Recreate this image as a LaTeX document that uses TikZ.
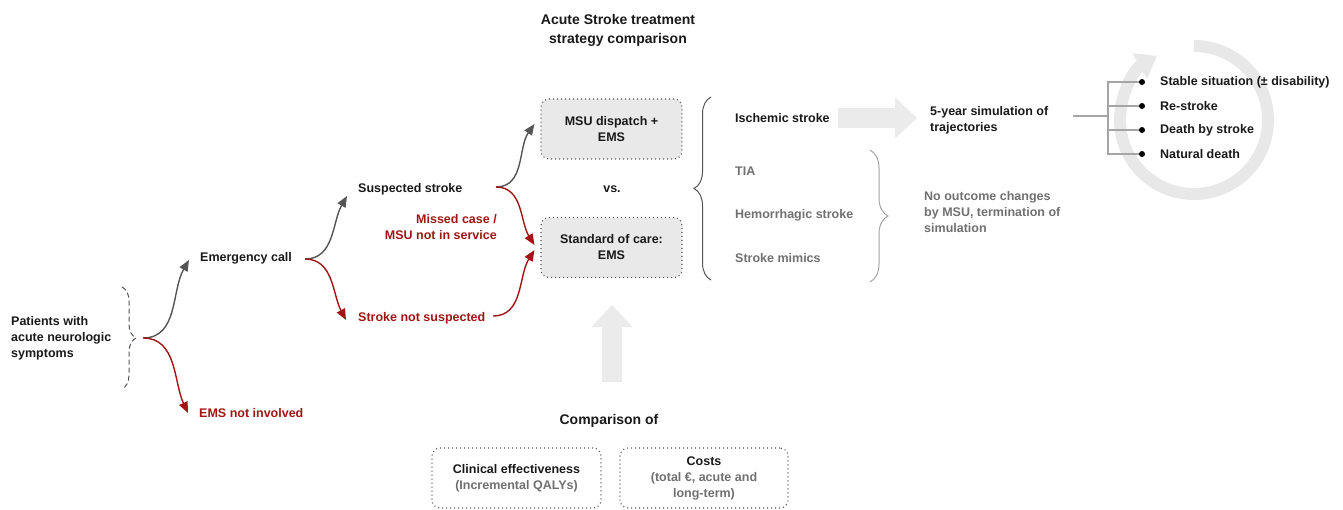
\documentclass[tikz,border=0pt]{standalone}
\usepackage{fontspec}
\setmainfont{Liberation Sans}
\usetikzlibrary{arrows.meta,decorations.pathreplacing,calc}
\definecolor{dgray}{RGB}{85,85,85}
\definecolor{tgray}{RGB}{112,112,112}
\definecolor{dred}{RGB}{160,22,22}
\definecolor{tblack}{RGB}{25,25,25}
\definecolor{boxfill}{RGB}{233,233,233}
\definecolor{bigarrow}{RGB}{235,235,235}
\definecolor{ringgray}{RGB}{232,232,232}
\definecolor{brgray}{RGB}{165,165,165}
\begin{document}
\begin{tikzpicture}[x=1pt,y=1pt,
  every node/.style={inner sep=0pt, font=\fontsize{12.5}{16}\selectfont\bfseries, text=tblack},
  txt/.style={anchor=west, align=left},
  gtxt/.style={anchor=west, align=left, text=tgray},
  rtxt/.style={anchor=west, align=left, text=dred},
  bigtxt/.style={font=\fontsize{14}{19}\selectfont\bfseries, align=center},
  cbox/.style={draw=dgray, dash pattern=on 1pt off 3pt, line width=1.1pt, rounded corners=8pt, minimum height=60pt, align=center},
  gar/.style={draw=dgray, line width=1.4pt, -{Triangle[length=11pt 0 0,width=9pt 0 0]}},
  rar/.style={draw=dred, line width=1.4pt, -{Triangle[length=11pt 0 0,width=9pt 0 0]}},
  blockarrow/.style={draw=bigarrow, line width=20pt, -{Triangle[length=22pt 0 0,width=40pt 0 0]}},
  tree/.style={draw=brgray, line width=1.3pt},
  dot/.style={circle, fill=black, minimum size=6pt}
]
\useasboundingbox (0,0) rectangle (1343,-509);

% ring arrow (background)
\draw[ringgray, line width=12pt, -{Triangle[length=20pt 0 0,width=28pt 0 0]}]
  (1194,-46) arc[start angle=90, end angle=-240, radius=74];

% title
\node[bigtxt] (title) at (618,-30.5) {Acute Stroke treatment\\strategy comparison};

% left part
\node[txt] (pat) at (11,-338) {Patients with\\acute neurologic\\symptoms};
\draw[dgray, line width=1pt, dash pattern=on 5pt off 3pt, decorate, decoration={brace, amplitude=14pt}]
  (122,-287) -- (122,-389);
\coordinate (pb) at (143,-338);

\node[txt] (ec) at (200,-258) {Emergency call};
\node[rtxt] (ems) at (199,-413) {EMS not involved};
\coordinate (ecf) at (305,-259);

\node[txt] (sus) at (358,-189) {Suspected stroke};
\node[rtxt] (sns) at (358,-318) {Stroke not suspected};
\coordinate (susf) at (496,-187);
\coordinate (snsf) at (493,-316);
\node[rtxt, anchor=east, align=right] (miss) at (497,-227) {Missed case /\\MSU not in service};

\node[cbox, fill=boxfill, minimum width=141pt] (msu) at (611.5,-129) {MSU dispatch +\\EMS};
\node[cbox, fill=boxfill, minimum width=141pt] (soc) at (611.5,-247.5) {Standard of care:\\EMS};
\node (vs) at (612,-189) {vs.};

\draw[gar] (pb) to[out=0,in=240] ([shift={(-11,-2)}]ec.west);
\draw[rar] (pb) to[out=0,in=115] ([shift={(-11,0)}]ems.west);
\draw[gar] (ecf) to[out=0,in=240] ([shift={(-11,-7)}]sus.west);
\draw[rar] (ecf) to[out=0,in=118] ([shift={(-12,-2)}]sns.west);
\draw[gar] (susf) to[out=0,in=235] ([shift={(-6,5)}]msu.west);
\draw[rar] (susf) to[out=0,in=122] ([shift={(-6,2.5)}]soc.west);
\draw[rar] (snsf) to[out=0,in=238] ([shift={(-6,-2.5)}]soc.west);

% outcomes brace
\draw[dgray, line width=1pt, decorate, decoration={brace, amplitude=17pt}] (711,-280) -- (711,-97);
\node[txt] (isch) at (735,-118) {Ischemic stroke};
\node[gtxt] (tia) at (735,-171) {TIA};
\node[gtxt] (hem) at (735,-215) {Hemorrhagic stroke};
\node[gtxt] (mim) at (735,-258) {Stroke mimics};
\draw[brgray, line width=1pt, decorate, decoration={brace, amplitude=18pt}] (870,-150) -- (870,-282);
\node[gtxt] (noc) at (924,-212) {No outcome changes\\by MSU, termination of\\simulation};

\coordinate (a1) at (838,-118);
\coordinate (a2) at (917,-118);
\draw[blockarrow] (a1) -- (a2);
\node[txt] (sim) at (930,-120) {5-year simulation of\\trajectories};

% tree
\coordinate (t0) at (1073,-116);
\coordinate (tj) at (1108,-116);
\node[dot] (b1) at (1142,-82) {};
\node[dot] (b2) at (1142,-106) {};
\node[dot] (b3) at (1142,-130) {};
\node[dot] (b4) at (1142,-154) {};
\draw[tree] (t0) -- (tj);
\draw[tree] (b1) -- (b1 -| tj) -- (b4 -| tj) -- (b4);
\draw[tree] (b2) -- (b2 -| tj);
\draw[tree] (b3) -- (b3 -| tj);
\node[txt] (o1) at (1160,-82) {Stable situation (± disability)};
\node[txt] (o2) at (1160,-106) {Re-stroke};
\node[txt] (o3) at (1160,-130) {Death by stroke};
\node[txt] (o4) at (1160,-154) {Natural death};

% bottom
\coordinate (u1) at (612,-382);
\coordinate (u2) at (612,-305);
\draw[blockarrow] (u1) -- (u2);
\node[bigtxt] (cmp) at (609,-421) {Comparison of};
\node[cbox, minimum width=169pt] (clin) at (516.5,-478) {Clinical effectiveness\\{\color{tgray}(Incremental QALYs)}};
\node[cbox, minimum width=168pt] (cost) at (704,-478) {Costs\\{\color{tgray}(total €, acute and}\\{\color{tgray}long-term)}};
\end{tikzpicture}
\end{document}
